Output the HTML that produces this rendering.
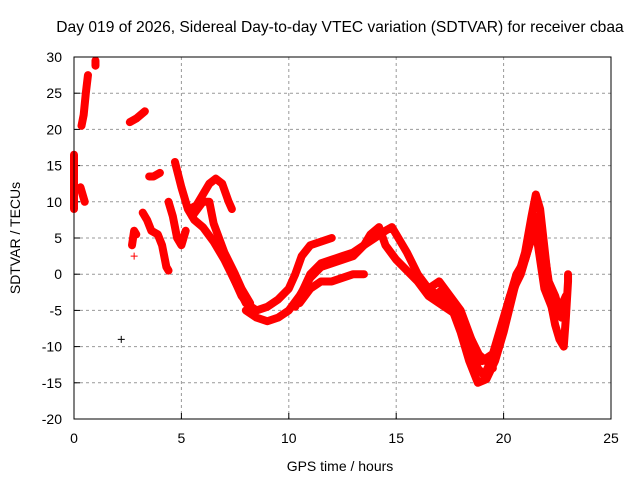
<!DOCTYPE html>
<html><head><meta charset="utf-8"><style>
body{margin:0;background:#fff;}
svg text{font-family:"Liberation Sans",sans-serif;font-size:14px;fill:#000;}
</style></head><body>
<svg id="chart" width="640" height="480" viewBox="0 0 640 480" xmlns="http://www.w3.org/2000/svg">
<rect width="640" height="480" fill="#fff"/>
<text x="340" y="32" text-anchor="middle" style="font-size:15.6px">Day 019 of 2026, Sidereal Day-to-day VTEC variation (SDTVAR) for receiver cbaa</text>
<text x="340" y="471" text-anchor="middle">GPS time / hours</text>
<text x="0" y="0" text-anchor="middle" transform="translate(20,238) rotate(-90)">SDTVAR / TECUs</text>
<g id="grid"></g><g id="ticks"></g><g id="series"></g>
<rect x="74" y="57" width="537" height="362" fill="none" stroke="#000" stroke-width="1"/>
</svg>
<script>
const xTicks=[0,5,10,15,20,25];
const yTicks=[-20,-15,-10,-5,0,5,10,15,20,25,30];
const trackA=[[4.7,15.5],[5.0,12],[5.3,9],[5.6,7.5],[6.0,6.5],[6.5,4.5],[7.0,2],[7.5,-1],[8.0,-4],[8.5,-5],[9,-4.5],[9.5,-3.5],[10,-2],[10.3,0],[10.6,2.5],[11,4],[11.5,4.5],[12,5]];
const trackB=[[8,-5],[8.5,-6],[9,-6.5],[9.5,-6],[10,-5],[10.5,-3],[11,-0.5],[11.5,1],[12,1.5],[12.5,2],[13,2.5],[13.5,4],[14,5],[14.5,6],[14.8,6.5],[15,5.5],[15.5,3],[16,0],[16.5,-2],[17,-3],[17.5,-4.5],[18,-7],[18.5,-10],[18.8,-13],[19.1,-14],[19.4,-12]];
const trackC=[[10.5,-4],[11,-2],[11.5,-1],[12,-1],[12.5,-0.5],[13,0],[13.5,0]];
const trackD=[[10.3,-4.5],[11,0],[11.5,1.5],[12,2],[12.5,2.5],[13,3],[13.5,4],[13.8,5.5],[14.2,6.5],[14.5,4],[15,2],[15.5,0.5],[16,-1],[16.5,-3],[17,-4],[17.5,-5],[18,-6],[18.5,-9],[18.8,-11],[19.2,-12],[19.5,-13]];
const trackE=[[16.8,-3],[17.2,-2],[17.5,-4],[18,-8],[18.4,-12],[18.8,-15],[19.2,-14.5],[19.6,-12],[20,-8],[20.5,-2],[21,3],[21.3,8],[21.5,11],[21.7,9],[22,1],[22.2,-4],[22.4,-7],[22.6,-9],[22.8,-10],[22.9,-6],[23,-1],[23,0]];
const trackF=[[19.8,-10],[20.2,-4],[20.6,0],[21,2],[21.4,6],[21.6,4],[21.9,-2],[22.3,-5],[22.7,-6]];
const trackI=[[19.5,-11],[19.9,-7],[20.3,-3],[20.8,0],[21.2,4],[21.6,8],[21.8,5],[22.1,-1],[22.4,-3],[22.6,-5],[22.9,-3]];
const trackJ=[[16.5,-2],[17,-1],[17.5,-3],[18,-5],[18.5,-9],[19,-12],[19.5,-11]];
const hump=[[5.4,9],[5.7,9.5],[6.0,11],[6.3,12.5],[6.6,13.2],[6.9,12.5],[7.2,10],[7.35,9]];
const trackG=[[5.5,8],[6,10],[6.3,10],[6.5,7],[7,3],[7.5,0],[7.8,-2],[8.2,-4]];
const trackH=[[7.2,1],[7.5,-1],[7.8,-3],[8.2,-4.5]];
const left1=[[0.35,20.5],[0.45,22],[0.55,25],[0.65,27.5]];
const left2=[[1.0,28.8],[1.0,29.5]];
const left3=[[0,16.5],[0,15],[0,13],[0,9]];
const left4=[[0.3,12],[0.4,11],[0.5,10]];
const left5=[[2.6,21],[2.9,21.5],[3.1,22],[3.3,22.5]];
const left6=[[2.7,4],[2.8,6],[2.9,5.5]];
const left7=[[3.2,8.5],[3.4,7.5],[3.6,6],[3.9,5.5],[4.1,4],[4.3,1],[4.4,0.5]];
const left8=[[3.5,13.5],[3.7,13.5],[4.0,14]];
const left9=[[4.4,10],[4.6,8],[4.8,5],[5.0,4],[5.2,6]];
const singles=[[2.2,-9],[2.8,2.5]];
const tracks=[trackA,trackB,trackC,trackD,trackE,trackF,trackI,trackJ,hump,trackG,trackH,left1,left2,left3,left4,left5,left6,left7,left8,left9];
const sx=h=>74+h*537/25;
const sy=v=>57+(30-v)*362/50;
const NS='http://www.w3.org/2000/svg';
function mk(t,a,p){const e=document.createElementNS(NS,t);for(const k in a)e.setAttribute(k,a[k]);p.appendChild(e);return e;}
const grid=document.getElementById('grid'),ticks=document.getElementById('ticks'),ser=document.getElementById('series');
xTicks.forEach(t=>{
  if(t>0&&t<25){const g=mk('line',{x1:sx(t),x2:sx(t),y1:57,y2:419,stroke:'#999','stroke-dasharray':'3,3'},grid);
  
  }
  const l=mk('text',{x:sx(t),y:443,'text-anchor':'middle'},ticks);l.textContent=t;
  
  
  mk('line',{x1:sx(t),x2:sx(t),y1:419,y2:413,stroke:'#000'},ticks);
});
yTicks.forEach(t=>{
  if(t>-20&&t<30){const g=mk('line',{x1:74,x2:611,y1:sy(t),y2:sy(t),stroke:'#999','stroke-dasharray':'3,3'},grid);
  
  }
  const l=mk('text',{x:62,y:sy(t)+5,'text-anchor':'end'},ticks);l.textContent=t;
  
  
  mk('line',{x1:74,x2:80,y1:sy(t),y2:sy(t),stroke:'#000'},ticks);
});
function plus(p,x,y,c){mk('path',{d:`M${x-3.5} ${y}h7M${x} ${y-3.5}v7`,stroke:c,'stroke-width':1,fill:'none'},p);}
tracks.forEach(tr=>{
  const g=mk('g',{},ser);
  
  
  mk('polyline',{points:tr.map(p=>sx(p[0])+','+sy(p[1])).join(' '),fill:'none',stroke:'#f00','stroke-width':8,'stroke-linejoin':'round','stroke-linecap':'round'},g);
  tr.forEach(p=>plus(g,sx(p[0]),sy(p[1]),'#f00'));
});
singles.forEach((p,i)=>{
  const g=mk('g',{},ser);
  
  
  plus(g,sx(p[0]),sy(p[1]),i==0?'#000':'#f00');
});
</script>
</body></html>
